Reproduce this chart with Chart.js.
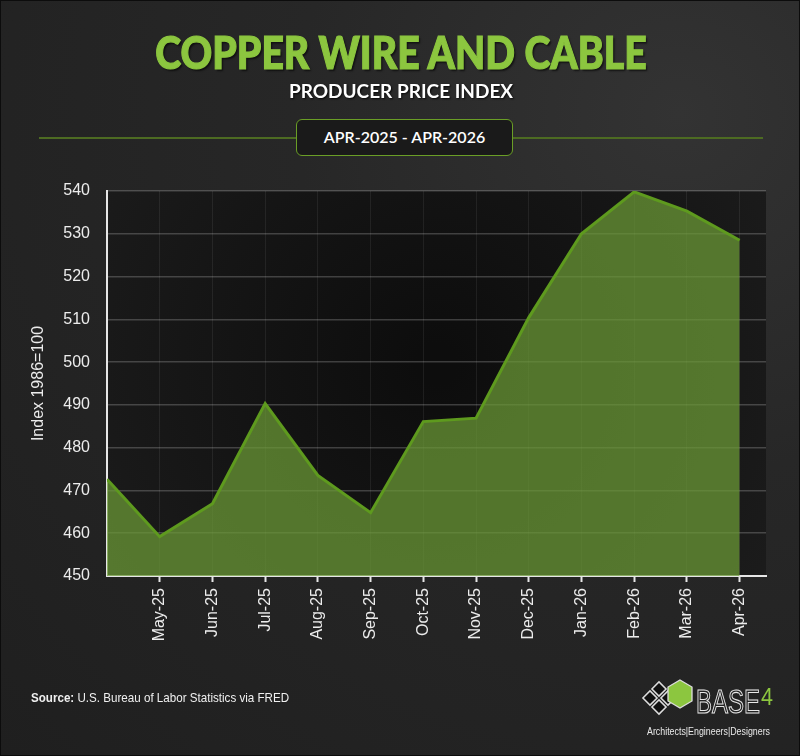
<!DOCTYPE html>
<html>
<head>
<meta charset="utf-8">
<script src="https://cdn.jsdelivr.net/npm/chart.js@4.4.1/dist/chart.umd.min.js"></script>
<style>
  html, body { margin: 0; padding: 0; }
  body { width: 800px; height: 756px; overflow: hidden; }
  #page {
    position: relative; width: 800px; height: 756px; box-sizing: border-box;
    border: 1px solid #0c0c0c;
    background: radial-gradient(ellipse at 85% 15%, #333 0%, #272727 40%, #1f1f1f 100%);
  }
  #chartWrap { position: absolute; left: 0; top: 0; width: 800px; height: 756px; }
  .title {
    position: absolute; left: 0; width: 800px; top: 24px; text-align: center;
    font-family: "Lato", "Inter", sans-serif; font-weight: 900; font-size: 45px;
    color: #8cc63f; transform: scaleX(0.87); transform-origin: 400px 0;
    -webkit-text-stroke: 1.2px #8cc63f;
    text-shadow: 2px 2px 2px rgba(0,0,0,0.6);
  }
  .subtitle {
    position: absolute; left: 0; width: 800px; top: 78px; text-align: center;
    font-family: "Lato", "Inter", sans-serif; font-weight: 700; font-size: 19px;
    color: #fff; text-shadow: 1px 1px 2px rgba(0,0,0,0.8);
  }
  .rule { position: absolute; left: 38px; width: 724px; top: 136px; height: 2px; background: #4d6b22; }
  .range {
    position: absolute; left: 295px; top: 118px; width: 217px; height: 37px; box-sizing: border-box;
    border: 1.5px solid #6a9e26; border-radius: 6px; background: #1a1a1a;
    font-family: "Lato", "Inter", sans-serif; font-weight: 600; font-size: 16px; color: #fff;
    text-align: center; line-height: 34px;
  }
  .source {
    position: absolute; left: 30px; top: 689px; font-family: "Liberation Sans", Arial, sans-serif;
    font-size: 13.5px; color: #f0f0f0; white-space: nowrap;
    transform: scaleX(0.86); transform-origin: 0 0;
  }
  .source b { font-weight: 700; }
  .logo { position: absolute; left: 636px; top: 678px; }
</style>
</head>
<body>
<div id="page">
  <div id="chartWrap"><canvas id="ppiChart" width="800" height="756"></canvas></div>
  <div class="title">COPPER WIRE AND CABLE</div>
  <div class="subtitle">PRODUCER PRICE INDEX</div>
  <div class="rule"></div>
  <div class="range">APR-2025 - APR-2026</div>
  <div class="source"><b>Source:</b> U.S. Bureau of Labor Statistics via FRED</div>
  <svg class="logo" width="145" height="60" viewBox="0 0 145 60">
    <g stroke="#ddd" stroke-width="1.5" fill="#111">
      <rect x="8" y="14" width="10" height="10" transform="rotate(45 13 19)"/>
      <rect x="17" y="5" width="10" height="10" transform="rotate(45 22 10)"/>
      <rect x="17" y="23" width="10" height="10" transform="rotate(45 22 28)"/>
      <rect x="26" y="14" width="10" height="10" transform="rotate(45 31 19)"/>
    </g>
    <polygon points="43,1 55,8 55,22 43,29 31,22 31,8" fill="#8cc63f" stroke="#ddd" stroke-width="1.3"/>
    <text x="59" y="34" textLength="64" lengthAdjust="spacingAndGlyphs" font-family="Liberation Sans, Arial, sans-serif" font-size="33" fill="none" stroke="#e8e8e8" stroke-width="1.1">BASE</text>
    <text x="124" y="26" textLength="12" lengthAdjust="spacingAndGlyphs" font-family="Liberation Sans, Arial, sans-serif" font-size="24" fill="#8cc63f">4</text>
    <text x="10" y="56" textLength="123" lengthAdjust="spacingAndGlyphs" font-family="Liberation Sans, Arial, sans-serif" font-size="11" fill="#e8e8e8">Architects|Engineers|Designers</text>
  </svg>
</div>
<script>
// Copper wire and cable PPI, monthly (Index 1986=100)
const months = ['Apr-25', 'May-25', 'Jun-25', 'Jul-25', 'Aug-25', 'Sep-25', 'Oct-25',
                'Nov-25', 'Dec-25', 'Jan-26', 'Feb-26', 'Mar-26', 'Apr-26'];
const ppiValues = [472.6, 459.2, 466.9, 490.3, 473.5, 464.8, 486.1,
                   486.9, 510.4, 530.0, 539.8, 535.3, 528.5];
const yTicks = [450, 460, 470, 480, 490, 500, 510, 520, 530, 540];

const plotBg = {
    id: 'plotBg',
    beforeDraw(chart) {
        const { ctx, chartArea: a } = chart;
        const g = ctx.createRadialGradient(a.left + a.width * 0.5, a.top + a.height * 0.45, 20,
                                           a.left + a.width * 0.5, a.top + a.height * 0.45, a.width * 0.7);
        g.addColorStop(0, '#0d0d0d');
        g.addColorStop(1, '#1e1e1e');
        ctx.save();
        ctx.fillStyle = g;
        ctx.fillRect(a.left, a.top, a.width, a.height);
        ctx.restore();
    }
};

const ctx = document.getElementById('ppiChart').getContext('2d');
const ppiChart = new Chart(ctx, {
    type: 'line',
    data: {
        datasets: [{
            label: 'PPI',
            data: ppiValues.map((v, i) => ({ x: i, y: v })),
            borderColor: '#5e9a1e',
            backgroundColor: 'rgba(106, 152, 54, 0.74)',
            borderWidth: 3,
            fill: 'start',
            tension: 0,
            pointRadius: 0
        }]
    },
    options: {
        responsive: false,
        animation: false,
        layout: { padding: { top: 190, right: 35, left: 0, bottom: 0 } },
        plugins: {
            legend: { display: false },
            tooltip: { enabled: false }
        },
        scales: {
            x: {
                type: 'linear',
                min: 0,
                max: 12.5,
                afterBuildTicks: (scale) => {
                    scale.ticks = months.map((m, i) => ({ value: i })).filter(t => t.value >= 1);
                },
                afterFit: (scale) => { scale.height = 181; },
                ticks: {
                    autoSkip: false,
                    maxRotation: 90,
                    minRotation: 90,
                    padding: 6,
                    color: '#ececec',
                    font: { family: 'Liberation Sans, Arial, sans-serif', size: 16 },
                    callback: (v) => months[v]
                },
                grid: {
                    color: 'rgba(255, 255, 255, 0.07)',
                    tickColor: '#e6e6e6',
                    tickLength: 6,
                    tickWidth: 2
                },
                border: { color: '#e6e6e6', width: 2 }
            },
            y: {
                min: yTicks[0],
                max: yTicks[yTicks.length - 1],
                afterBuildTicks: (scale) => { scale.ticks = yTicks.map(v => ({ value: v })); },
                afterFit: (scale) => { scale.width = 106; },
                ticks: {
                    padding: 17,
                    color: '#ececec',
                    font: { family: 'Liberation Sans, Arial, sans-serif', size: 16 }
                },
                grid: {
                    color: 'rgba(255, 255, 255, 0.2)',
                    lineWidth: 1.5,
                    drawTicks: false
                },
                border: { color: '#e6e6e6', width: 2 },
                title: {
                    display: true,
                    text: 'Index 1986=100',
                    color: '#ececec',
                    font: { family: 'Liberation Sans, Arial, sans-serif', size: 16 },
                    padding: { top: 28, bottom: 0 }
                }
            }
        }
    },
    plugins: [plotBg]
});
</script>
</body>
</html>
